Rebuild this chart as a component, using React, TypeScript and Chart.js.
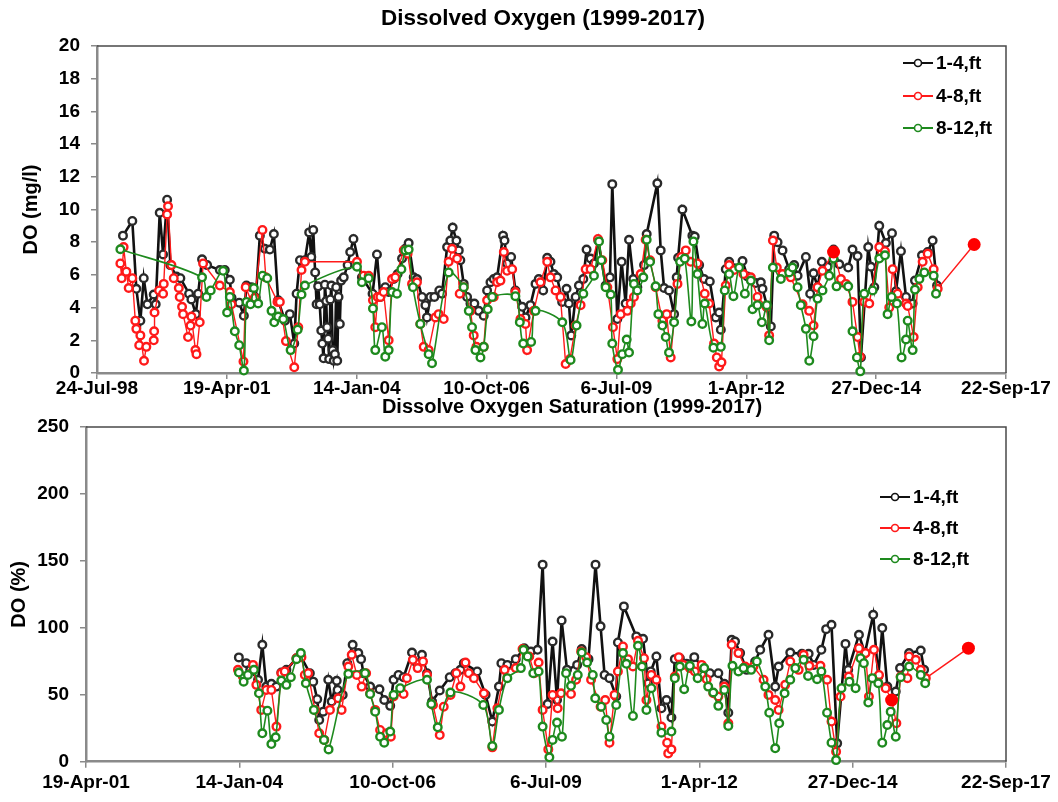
import React, { useEffect, useRef } from "react";
import { Chart, registerables } from "chart.js";

Chart.register(...registerables);

type Pt = [number, number]; // [Excel date serial, value]

// X-axis ticks (Excel date serials) and their labels
const xTickValues = [36000, 37000, 38000, 39000, 40000, 41000, 42000, 43000];
const xTickLabels = ["24-Jul-98", "19-Apr-01", "14-Jan-04", "10-Oct-06", "6-Jul-09", "1-Apr-12", "27-Dec-14", "22-Sep-17"];

const seriesNames = ["1-4,ft", "4-8,ft", "8-12,ft"];

// ---------- Dissolved Oxygen (mg/l) ----------
const do_1_4: Pt[] = [
  [36200, 8.4], [36272, 9.3], [36303, 5.15], [36334, 3.2], [36360, 5.8], [36388, 4.2], [36437, 4.8], [36452, 4.2],
  [36483, 9.8], [36509, 7.25], [36540, 10.6], [36565, 6.6], [36612, 5.9], [36642, 5.8], [36709, 4.85], [36727, 4.5],
  [36761, 3.6], [36779, 4.85], [36809, 6.95], [36848, 6.6], [36946, 6.3], [36984, 6.3], [37023, 5.7], [37036, 4.6],
  [37095, 4.3], [37131, 3.5], [37151, 5.35], [37190, 5.25], [37223, 4.6], [37254, 8.4], [37293, 7.6], [37331, 7.55],
  [37362, 8.5], [37395, 4.45], [37447, 3.2], [37485, 3.6], [37519, 1.8], [37537, 4.85], [37563, 6.9], [37601, 6.9],
  [37634, 8.6], [37650, 7.1], [37665, 8.75], [37680, 6.15],
  [37691, 4.2], [37703, 5.3], [37715, 4.2], [37727, 2.6], [37735, 1.8], [37745, 0.9], [37755, 5.4], [37765, 4.4],
  [37772, 2.8], [37780, 2.1], [37788, 0.85], [37797, 4.5], [37805, 5.35], [37815, 1.4], [37823, 0.75], [37832, 1.15],
  [37842, 5.25], [37850, 0.75], [37860, 4.65], [37870, 3.0], [37880, 5.65], [37900, 5.85], [37930, 6.6], [37950, 7.4],
  [37975, 8.2],
  [38040, 5.85], [38122, 4.85], [38156, 7.25], [38182, 4.65], [38220, 5.25], [38246, 4.95], [38284, 5.75], [38315, 6.05],
  [38349, 7.0], [38374, 7.6], [38400, 7.95], [38439, 5.85], [38464, 5.75], [38503, 4.65], [38529, 4.15], [38541, 3.4],
  [38567, 4.65], [38598, 4.65], [38636, 5.05], [38657, 4.85], [38696, 7.7], [38721, 8.1], [38739, 8.9], [38768, 8.1],
  [38786, 7.5], [38798, 6.9], [38824, 5.45], [38850, 4.65], [38876, 4.25], [38906, 4.25], [38940, 3.8], [38978, 3.5],
  [39004, 5.05], [39030, 5.55], [39055, 5.75], [39081, 5.85], [39127, 8.4], [39138, 8.1], [39158, 6.7], [39189, 7.1],
  [39222, 5.05], [39274, 4.05], [39300, 3.4], [39338, 4.15], [39377, 5.45], [39402, 5.75], [39436, 5.05], [39467, 7.05],
  [39492, 6.8], [39518, 6.05], [39544, 5.85], [39582, 4.35], [39616, 5.15], [39634, 4.25], [39652, 2.3], [39686, 4.65],
  [39711, 5.35], [39745, 5.75], [39770, 7.55], [39801, 7.0], [39827, 6.7], [39860, 8.1], [39917, 5.35], [39950, 5.85],
  [39968, 11.55], [40007, 3.3], [40040, 6.8], [40071, 4.25], [40097, 8.15], [40130, 5.75], [40161, 5.25], [40213, 6.6],
  [40233, 8.5], [40315, 11.6], [40341, 7.5], [40367, 5.2], [40405, 5.05], [40444, 3.6], [40464, 5.85], [40475, 7.05],
  [40508, 10.0], [40585, 8.4], [40603, 8.35], [40637, 6.6], [40675, 5.75], [40719, 5.6], [40765, 3.4], [40791, 3.7],
  [40804, 2.65], [40842, 6.35], [40868, 6.8], [40906, 6.4], [40971, 6.85], [41009, 5.9], [41073, 5.5], [41112, 5.55],
  [41125, 5.15], [41163, 4.0], [41189, 2.85], [41215, 8.4], [41241, 8.0], [41279, 7.5], [41330, 6.35], [41369, 6.6],
  [41395, 5.95], [41459, 7.1], [41492, 4.85], [41518, 6.1], [41549, 5.25], [41582, 6.8], [41626, 6.5], [41672, 7.55],
  [41716, 6.65], [41785, 6.45], [41818, 7.55], [41857, 7.15], [41883, 0.95], [41939, 7.7], [41960, 6.5], [41986, 5.25],
  [42024, 9.0], [42075, 7.95], [42122, 8.55], [42153, 5.0], [42191, 7.45], [42230, 4.65], [42281, 4.25], [42299, 5.65],
  [42353, 7.2], [42397, 7.4], [42435, 8.1], [42469, 5.35],
];

const do_4_8: Pt[] = [
  [36180, 6.7], [36190, 5.8], [36205, 7.7], [36226, 6.2], [36244, 5.2], [36272, 5.8], [36295, 3.2], [36303, 2.7],
  [36325, 1.7], [36334, 2.3], [36362, 0.75], [36380, 1.6], [36437, 2.0], [36440, 2.55], [36443, 3.7], [36478, 5.05],
  [36509, 4.85], [36514, 5.45], [36540, 9.7], [36547, 10.2], [36573, 6.6], [36591, 5.8], [36630, 5.2], [36637, 4.65],
  [36655, 4.05], [36663, 3.6], [36701, 2.2], [36720, 2.9], [36727, 3.45], [36758, 1.4], [36766, 1.15], [36791, 3.1],
  [36817, 6.7], [36946, 5.35], [37023, 4.95], [37036, 4.2], [37128, 0.7], [37145, 5.25], [37190, 4.35], [37215, 4.6],
  [37274, 8.75], [37300, 5.85], [37390, 4.35], [37408, 4.35], [37455, 1.95], [37519, 0.35], [37550, 2.8], [37575, 6.3],
  [37601, 6.8],
  [38002, 6.8], [38053, 5.95], [38092, 5.95], [38125, 4.45], [38143, 2.8], [38161, 4.65], [38182, 4.65], [38207, 4.95],
  [38246, 2.0], [38272, 5.75], [38297, 5.85], [38362, 7.5], [38392, 7.3], [38426, 5.45], [38464, 5.55], [38490, 3.0],
  [38516, 1.6], [38554, 1.4], [38606, 3.4], [38631, 3.6], [38670, 3.3], [38708, 6.8], [38734, 7.6], [38773, 7.0],
  [38793, 4.85], [38824, 5.25], [38876, 3.8], [38901, 2.3], [38922, 1.6], [38978, 1.6], [39004, 4.45], [39055, 4.65],
  [39081, 5.55], [39107, 5.65], [39133, 7.4], [39158, 6.25], [39197, 6.35], [39222, 4.95], [39261, 3.3], [39300, 3.0],
  [39312, 1.4], [39364, 3.8], [39415, 5.55], [39467, 6.8], [39492, 5.85], [39531, 5.05], [39569, 4.65], [39609, 0.55],
  [39642, 0.85], [39686, 2.9], [39724, 4.15], [39763, 6.35], [39801, 6.35], [39858, 8.2], [39891, 6.9], [39930, 5.25],
  [39973, 2.8], [40007, 0.85], [40033, 3.6], [40084, 3.8], [40110, 4.25], [40135, 4.65], [40187, 6.05], [40225, 8.15],
  [40259, 6.9], [40302, 5.25], [40354, 3.2], [40387, 3.6], [40418, 0.95], [40470, 5.45], [40500, 7.1], [40534, 7.5],
  [40572, 6.8], [40624, 6.7], [40680, 4.85], [40714, 4.25], [40752, 1.8], [40773, 0.95], [40791, 0.4], [40809, 0.65],
  [40842, 5.35], [40868, 6.6], [40906, 6.3], [40978, 6.05], [41035, 5.85], [41086, 4.65], [41156, 4.05], [41176, 2.3],
  [41205, 8.1], [41235, 6.45], [41279, 6.05], [41343, 5.85], [41433, 4.2], [41484, 3.8], [41518, 2.9], [41549, 5.25],
  [41587, 6.25], [41672, 7.4], [41729, 5.75], [41767, 5.45], [41818, 4.35], [41857, 2.2], [41875, 1.0], [41908, 4.35],
  [41947, 4.25], [42024, 7.7], [42068, 7.45], [42101, 4.0], [42127, 6.35], [42165, 4.85], [42230, 4.25], [42243, 4.1],
  [42289, 2.2], [42320, 5.25], [42358, 6.8], [42397, 7.3], [42443, 6.35], [42474, 5.15], [42755, 7.86],
];

const do_8_12: Pt[] = [
  [36180, 7.57], [36809, 5.85], [36843, 4.65], [36876, 5.05], [36971, 6.25], [37002, 3.7], [37023, 4.65], [37061, 2.55],
  [37095, 1.7], [37131, 0.15], [37151, 4.35], [37182, 4.2], [37208, 5.2], [37241, 4.25], [37275, 5.95], [37311, 5.8],
  [37344, 3.8], [37365, 3.1], [37395, 3.45], [37434, 3.3], [37491, 1.4], [37545, 2.65], [37575, 4.8], [37601, 5.35],
  [38002, 6.5], [38040, 5.55], [38092, 5.8], [38125, 3.95], [38143, 1.4], [38194, 2.8], [38220, 1.0], [38246, 1.4],
  [38272, 4.95], [38310, 4.85], [38344, 6.35], [38374, 7.5], [38400, 7.55], [38433, 5.25], [38490, 3.0], [38554, 1.15],
  [38580, 0.6], [38708, 6.15], [38824, 5.25], [38863, 3.8], [38888, 2.8], [38914, 1.4], [38953, 0.95], [38978, 1.6],
  [39009, 3.9], [39043, 4.65], [39222, 4.7], [39256, 3.1], [39282, 1.8], [39343, 1.9], [39377, 3.8], [39583, 3.1],
  [39647, 0.8], [39693, 2.9], [39745, 4.85], [39827, 5.95], [39866, 8.05], [39884, 6.9], [39917, 5.25], [39956, 4.8],
  [39968, 1.8], [40012, 0.2], [40045, 1.15], [40079, 2.05], [40097, 1.25], [40135, 5.45], [40161, 5.05], [40207, 5.85],
  [40233, 8.15], [40259, 6.8], [40302, 5.3], [40323, 3.6], [40354, 2.9], [40380, 2.2], [40405, 1.25], [40444, 3.1],
  [40490, 6.8], [40526, 7.0], [40577, 3.15], [40593, 8.05], [40624, 6.05], [40662, 3.0], [40680, 4.25], [40747, 1.55],
  [40804, 1.6], [40834, 5.05], [40868, 6.05], [40901, 4.7], [40945, 6.45], [40989, 4.85], [41035, 5.65], [41048, 3.9],
  [41086, 4.15], [41120, 3.1], [41158, 4.15], [41176, 2.0], [41205, 6.45], [41266, 5.75], [41330, 6.15], [41356, 6.45],
  [41395, 5.25], [41420, 4.15], [41459, 2.7], [41485, 0.75], [41518, 2.25], [41549, 4.55], [41587, 5.05], [41639, 5.95],
  [41672, 7.0], [41695, 5.3], [41785, 5.3], [41818, 2.55], [41852, 0.95], [41878, 0.1], [41908, 4.85], [41973, 5.05],
  [42024, 7.0], [42068, 7.2], [42088, 3.6], [42119, 4.65], [42160, 4.25], [42196, 0.95], [42230, 2.05], [42243, 3.2],
  [42281, 1.4], [42299, 5.1], [42333, 5.75], [42371, 6.15], [42443, 5.95], [42461, 4.85],
];

// highlighted (solid) 4-8 ft samples
const doHighlighted: Pt[] = [[41672, 7.4], [42755, 7.86]];

// ---------- Dissolved Oxygen Saturation (%) ----------
const sat_1_4: Pt[] = [
  [37997, 77.9], [38045, 73.6], [38071, 68.6], [38122, 61.2], [38150, 87.3], [38176, 56.1], [38209, 58.2], [38242, 56.1],
  [38274, 66.6], [38307, 68.6], [38373, 77.3], [38401, 78.6], [38460, 66.1], [38482, 59.8], [38508, 46.7], [38521, 31.2],
  [38547, 37.4], [38580, 61.2], [38602, 44.9], [38635, 60.4], [38641, 53.6], [38674, 49.9], [38704, 73.6], [38739, 87.3],
  [38776, 81.1], [38794, 76.6], [38809, 66.1], [38853, 56.1], [38914, 54.1], [38945, 46.1], [38984, 41.7], [39006, 61.2],
  [39038, 64.8], [39071, 63.1], [39126, 81.5], [39158, 73.6], [39191, 79.9], [39224, 66.1], [39257, 44.9], [39307, 53.2],
  [39372, 63.1], [39409, 66.1], [39442, 68.6], [39464, 73.6], [39551, 67.4], [39606, 49.9], [39650, 30.0], [39693, 56.1],
  [39709, 73.6], [39748, 72.3], [39803, 76.6], [39858, 84.8], [39901, 82.3], [39945, 83.6], [39978, 147.2], [40011, 43.1],
  [40043, 89.8], [40072, 46.1], [40102, 105.5], [40137, 68.6], [40203, 72.3], [40233, 84.1], [40277, 76.6], [40323, 147.2],
  [40356, 101.1], [40382, 64.8], [40414, 62.4], [40458, 48.7], [40469, 89.1], [40508, 116.0], [40589, 93.6], [40633, 91.8],
  [40666, 58.6], [40683, 67.4], [40720, 78.6], [40753, 39.9], [40786, 46.1], [40818, 33.0], [40840, 76.6], [40873, 77.3],
  [40917, 73.1], [40967, 78.1], [41026, 69.9], [41069, 66.1], [41124, 66.1], [41163, 58.2], [41189, 36.6], [41211, 91.0],
  [41233, 89.8], [41266, 81.1], [41309, 68.6], [41364, 74.9], [41397, 83.6], [41451, 94.8], [41495, 56.1], [41517, 71.1],
  [41593, 81.5], [41669, 80.6], [41713, 80.6], [41746, 72.3], [41796, 83.6], [41827, 99.0], [41862, 102.3], [41899, 13.7],
  [41953, 88.0], [41971, 68.6], [42041, 94.8], [42080, 81.1], [42134, 109.7], [42167, 63.6], [42193, 99.8], [42226, 56.1],
  [42281, 52.4], [42309, 69.9], [42368, 81.1], [42444, 83.0], [42466, 68.6],
];

const sat_4_8: Pt[] = [
  [37991, 68.6], [38023, 63.6], [38089, 72.3], [38111, 57.4], [38143, 38.7], [38176, 53.6], [38209, 53.6], [38242, 26.2],
  [38274, 66.1], [38296, 67.4], [38373, 77.3], [38405, 78.1], [38427, 64.8], [38449, 66.1], [38493, 38.7], [38521, 21.2],
  [38554, 16.3], [38591, 38.7], [38645, 47.4], [38667, 38.7], [38711, 71.1], [38733, 79.9], [38766, 64.8], [38798, 56.1],
  [38827, 66.1], [38853, 51.1], [38886, 38.7], [38918, 23.7], [38962, 21.2], [38988, 18.7], [39006, 48.7], [39071, 50.6],
  [39093, 62.4], [39132, 76.1], [39163, 69.9], [39198, 74.9], [39224, 64.8], [39263, 42.4], [39307, 19.9], [39333, 41.1],
  [39377, 49.9], [39416, 66.1], [39442, 56.1], [39475, 74.1], [39497, 66.1], [39530, 62.4], [39595, 51.1], [39650, 10.7],
  [39683, 39.9], [39730, 68.6], [39803, 69.9], [39847, 84.1], [39891, 78.6], [39923, 66.1], [39952, 74.1], [39978, 38.7],
  [40015, 9.2], [40043, 49.9], [40076, 39.9], [40098, 51.1], [40163, 50.6], [40196, 61.2], [40229, 82.3], [40262, 78.1],
  [40294, 61.2], [40356, 41.1], [40386, 46.1], [40414, 14.2], [40447, 49.9], [40469, 67.4], [40502, 86.1], [40535, 76.6],
  [40567, 71.1], [40600, 90.3], [40639, 77.3], [40655, 46.1], [40687, 64.8], [40720, 61.2], [40753, 26.2], [40790, 14.2],
  [40797, 6.2], [40818, 9.2], [40840, 63.6], [40866, 78.1], [40895, 72.3], [40938, 69.9], [40971, 67.4], [41015, 72.3],
  [41048, 61.6], [41091, 51.1], [41124, 48.7], [41163, 56.1], [41189, 28.7], [41211, 87.3], [41255, 81.1], [41299, 71.1],
  [41353, 71.1], [41419, 61.2], [41451, 49.9], [41495, 46.1], [41517, 38.7], [41560, 57.4], [41593, 74.9], [41648, 68.6],
  [41680, 79.9], [41717, 71.6], [41790, 71.6], [41833, 61.2], [41862, 30.0], [41892, 7.5], [41921, 48.7], [41975, 63.6],
  [42041, 84.8], [42084, 81.1], [42106, 48.7], [42139, 83.6], [42172, 64.8], [42215, 54.9], [42254, 46.1], [42285, 28.7],
  [42313, 63.6], [42357, 62.4], [42368, 78.6], [42412, 76.1], [42444, 68.6], [42477, 62.4], [42755, 84.8],
];

const sat_8_12: Pt[] = [
  [37997, 66.6], [38028, 59.8], [38056, 64.8], [38095, 68.6], [38128, 51.1], [38150, 21.2], [38183, 38.1], [38209, 13.2],
  [38237, 18.2], [38274, 60.6], [38307, 57.4], [38336, 63.1], [38373, 76.6], [38401, 81.1], [38434, 58.6], [38486, 38.7],
  [38552, 16.3], [38582, 9.2], [38711, 65.6], [38820, 66.1], [38853, 50.6], [38886, 37.4], [38918, 18.7], [38945, 14.2],
  [38984, 22.5], [39006, 49.9], [39049, 54.9], [39224, 61.2], [39252, 43.1], [39294, 25.7], [39377, 51.7], [39591, 42.4],
  [39650, 11.7], [39693, 38.7], [39748, 62.4], [39836, 69.9], [39853, 83.6], [39880, 78.6], [39917, 66.1], [39952, 67.4],
  [39978, 26.2], [40022, 3.3], [40043, 16.3], [40072, 29.2], [40104, 18.7], [40131, 66.1], [40163, 56.7], [40207, 64.8],
  [40233, 81.5], [40268, 74.1], [40305, 64.8], [40321, 47.4], [40360, 41.1], [40393, 31.2], [40414, 18.7], [40458, 42.4],
  [40502, 81.1], [40524, 73.1], [40567, 34.2], [40600, 86.6], [40626, 71.1], [40655, 38.7], [40687, 54.9], [40753, 21.7],
  [40818, 22.5], [40840, 62.4], [40873, 71.1], [40901, 54.1], [40938, 71.6], [40989, 62.4], [41032, 69.9], [41058, 56.1],
  [41091, 51.7], [41124, 41.7], [41163, 53.6], [41189, 26.7], [41216, 71.6], [41255, 67.4], [41288, 69.9], [41338, 68.6],
  [41375, 74.9], [41430, 56.1], [41456, 36.6], [41495, 10.0], [41521, 28.7], [41556, 51.1], [41593, 61.2], [41626, 69.9],
  [41680, 76.1], [41709, 64.1], [41768, 61.6], [41796, 67.4], [41833, 36.6], [41862, 14.2], [41892, 1.2], [41927, 54.9],
  [41979, 59.8], [42019, 54.9], [42051, 77.3], [42073, 73.6], [42102, 44.2], [42128, 62.4], [42167, 58.6], [42193, 14.2],
  [42226, 27.4], [42248, 37.4], [42281, 18.7], [42313, 63.1], [42368, 71.1], [42444, 64.8], [42473, 58.6],
];

const satHighlighted: Pt[] = [[42254, 46.1], [42755, 84.8]];

// ---------- styling ----------
const FONT = "'Liberation Sans', Arial, Helvetica, sans-serif";
const COLORS = ["#111111", "#ff1a1a", "#1e8a1e"];
const LINE_W = [2.6, 1.4, 1.6];
const AXIS_GREY = "#8a8a8a";

function toXY(pts: Pt[]) {
  return pts.map(([x, y]) => ({ x, y }));
}

function seriesDataset(pts: Pt[], i: number) {
  return {
    label: seriesNames[i],
    data: toXY(pts),
    borderColor: COLORS[i],
    borderWidth: LINE_W[i],
    pointRadius: 3.8,
    pointHoverRadius: 3.8,
    pointBorderWidth: 2.4,
    pointBorderColor: i === 0 ? "#2a2a2a" : COLORS[i],
    pointBackgroundColor: "#ffffff",
    tension: i === 2 ? 0.3 : 0,
    fill: false,
    clip: false as any,
    order: 3 - i,
  };
}

function highlightDataset(pts: Pt[]) {
  return {
    label: "highlight",
    data: toXY(pts),
    showLine: false,
    pointRadius: 6.5,
    pointHoverRadius: 6.5,
    pointBorderWidth: 0,
    pointBackgroundColor: "#ff0000",
    pointBorderColor: "#ff0000",
    clip: false as any,
    order: 0,
  };
}

interface PanelSpec {
  width: number;
  height: number;
  title: string;
  titleX: number;
  titleY: number;
  titleSize: number;
  yTitle: string;
  yTitlePad: number;
  yMax: number;
  yStep: number;
  xMin: number;
  xLabelPad: number;
  plotLeft: number;
  plotTop: number;
  plotBottom: number;
  plotRight: number;
  legendX: number;
  legendY: number[];
  series: Pt[][];
  highlighted: Pt[];
}

function makeDecorPlugin(spec: PanelSpec) {
  return {
    id: "decor",
    afterDraw(chart: any) {
      const { ctx, chartArea } = chart;
      ctx.save();
      // frame top + right
      ctx.strokeStyle = "#4a4a4a";
      ctx.lineWidth = 1.5;
      ctx.beginPath();
      ctx.moveTo(chartArea.left, chartArea.top);
      ctx.lineTo(chartArea.right, chartArea.top);
      ctx.lineTo(chartArea.right, chartArea.bottom);
      ctx.stroke();
      // title
      ctx.fillStyle = "#000";
      ctx.font = `bold ${spec.titleSize}px ${FONT}`;
      ctx.textAlign = "center";
      ctx.textBaseline = "middle";
      ctx.fillText(spec.title, spec.titleX, spec.titleY);
      // legend
      ctx.textAlign = "left";
      ctx.font = `bold 19px ${FONT}`;
      seriesNames.forEach((name, i) => {
        const y = spec.legendY[i];
        const x0 = spec.legendX;
        ctx.strokeStyle = COLORS[i];
        ctx.lineWidth = 2;
        ctx.beginPath();
        ctx.moveTo(x0, y);
        ctx.lineTo(x0 + 30, y);
        ctx.stroke();
        ctx.beginPath();
        ctx.arc(x0 + 15, y, 3.5, 0, Math.PI * 2);
        ctx.fillStyle = "#fff";
        ctx.fill();
        ctx.lineWidth = 1.6;
        ctx.stroke();
        ctx.fillStyle = "#000";
        ctx.fillText(name, x0 + 33, y + 1);
      });
      ctx.restore();
    },
  };
}

function Panel({ spec, top }: { spec: PanelSpec; top: number }) {
  const ref = useRef<HTMLCanvasElement | null>(null);
  useEffect(() => {
    if (!ref.current) return;
    const datasets: any[] = spec.series.map((s, i) => seriesDataset(s, i));
    datasets.push(highlightDataset(spec.highlighted));
    const ticksFont = { family: FONT, size: 19, weight: "bold" as const };
    const chart = new Chart(ref.current, {
      type: "line",
      data: { datasets },
      options: {
        animation: false,
        responsive: false,
        devicePixelRatio: 1,
        events: [],
        layout: {
          padding: { left: 0, top: spec.plotTop, right: spec.width - spec.plotRight, bottom: 0 },
        },
        plugins: {
          legend: { display: false },
          title: { display: false },
          tooltip: { enabled: false },
        },
        scales: {
          x: {
            type: "linear",
            min: spec.xMin,
            max: 43000,
            afterBuildTicks: (scale: any) => {
              scale.ticks = xTickValues.filter((v) => v >= spec.xMin).map((v) => ({ value: v }));
            },
            afterFit: (scale: any) => {
              scale.height = spec.height - spec.plotBottom;
            },
            ticks: {
              autoSkip: false,
              maxRotation: 0,
              padding: spec.xLabelPad,
              color: "#000",
              font: ticksFont,
              callback: (v: any) => xTickLabels[xTickValues.indexOf(Number(v))] ?? "",
            },
            grid: { display: true, drawOnChartArea: false, drawTicks: true, tickLength: 6, color: AXIS_GREY, lineWidth: 1.5 },
            border: { display: true, color: AXIS_GREY, width: 2.5 },
          },
          y: {
            min: 0,
            max: spec.yMax,
            afterFit: (scale: any) => {
              scale.width = spec.plotLeft;
            },
            ticks: { stepSize: spec.yStep, padding: 11, color: "#000", font: ticksFont },
            grid: { display: true, drawOnChartArea: false, drawTicks: true, tickLength: 6, color: AXIS_GREY, lineWidth: 1.5 },
            border: { display: true, color: AXIS_GREY, width: 2.5 },
            title: {
              display: true,
              text: spec.yTitle,
              color: "#000",
              font: { family: FONT, size: 20, weight: "bold" },
              padding: { top: spec.yTitlePad, bottom: 0 },
            },
          },
        },
      },
      plugins: [makeDecorPlugin(spec)],
    } as any);
    return () => chart.destroy();
  }, [spec]);
  return (
    <canvas
      ref={ref}
      width={spec.width}
      height={spec.height}
      style={{ position: "absolute", left: 0, top, width: spec.width, height: spec.height, display: "block" }}
    />
  );
}

const topSpec: PanelSpec = {
  width: 1058,
  height: 402,
  title: "Dissolved Oxygen (1999-2017)",
  titleX: 543,
  titleY: 19,
  titleSize: 22.5,
  yTitle: "DO (mg/l)",
  yTitlePad: 19,
  yMax: 20,
  yStep: 2,
  xMin: 36000,
  xLabelPad: -2,
  plotLeft: 97,
  plotTop: 46,
  plotBottom: 373,
  plotRight: 1006,
  legendX: 903,
  legendY: [63, 96, 128],
  series: [do_1_4, do_4_8, do_8_12],
  highlighted: doHighlighted,
};

// bottom panel canvas starts at y = 397 of the page
const bottomSpec: PanelSpec = {
  width: 1058,
  height: 405,
  title: "Dissolve Oxygen Saturation (1999-2017)",
  titleX: 572,
  titleY: 10,
  titleSize: 20,
  yTitle: "DO (%)",
  yTitlePad: 7,
  yMax: 250,
  yStep: 50,
  xMin: 37000,
  xLabelPad: 4,
  plotLeft: 86,
  plotTop: 30,
  plotBottom: 364.7,
  plotRight: 1006,
  legendX: 880,
  legendY: [100, 131, 162],
  series: [sat_1_4, sat_4_8, sat_8_12],
  highlighted: satHighlighted,
};

export default function App() {
  return (
    <div style={{ position: "absolute", left: 0, top: 0, width: 1058, height: 802, background: "#fff", overflow: "hidden" }}>
      <Panel spec={topSpec} top={0} />
      <Panel spec={bottomSpec} top={397} />
    </div>
  );
}
